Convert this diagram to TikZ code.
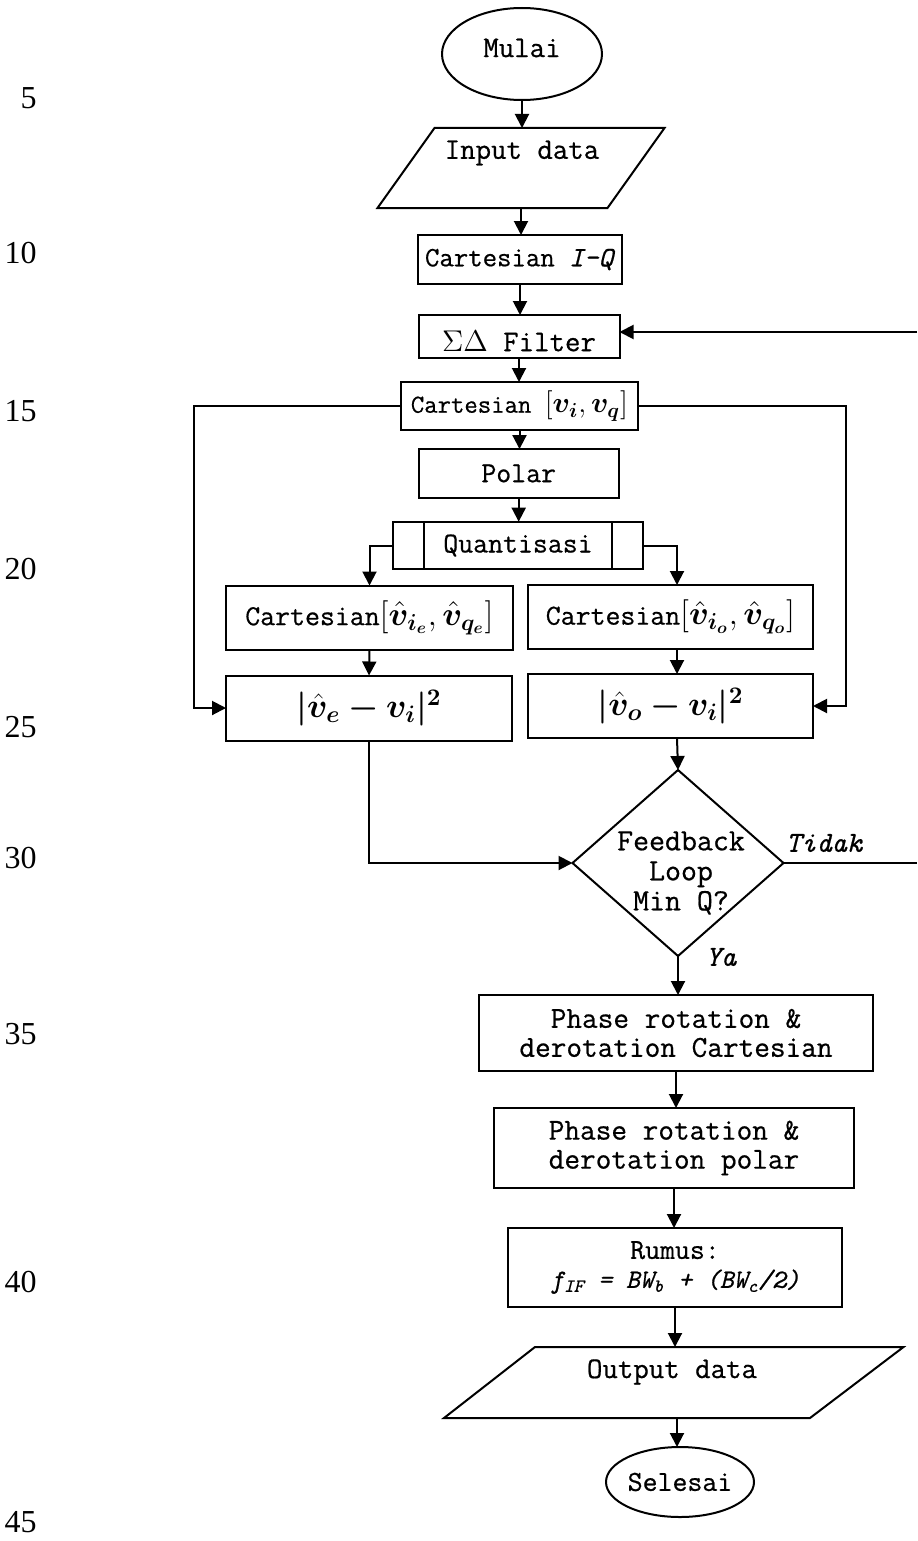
\RequirePackage{fix-cm}
\documentclass[tikz,border=0pt]{standalone}
\usepackage{fontspec}
\setmainfont{Liberation Serif}
\setmonofont{Latin Modern Mono}[FakeBold=0.6]
\usepackage{amsmath,bm}
\usetikzlibrary{shapes.geometric,arrows.meta,calc}
\begin{document}
\begin{tikzpicture}[x=0.5pt,y=-0.5pt,
  box/.style={draw, line width=1pt, rectangle, inner sep=0pt, outer sep=0pt,
    font=\ttfamily\fontsize{14.5}{14.5}\selectfont, align=center},
  bigtxt/.style={font=\ttfamily\fontsize{15.2}{14.5}\selectfont},
  arr/.style={line width=1pt, -{Triangle[length=7pt,width=7pt]}},
  ln/.style={line width=1pt},
  num/.style={font=\fontsize{16}{18}\selectfont, anchor=east, inner sep=0pt},
  txt/.style={font=\ttfamily\fontsize{15}{15}\selectfont, inner sep=0pt, align=center},
  itxt/.style={font=\ttfamily\itshape\fontsize{14.5}{15}\selectfont, inner sep=0pt},
  bigmath/.style={font=\fontsize{17}{20}\selectfont}]

\fill[white] (0,0) rectangle (917,1541);
\useasboundingbox (0,0) rectangle (917,1541);

% line numbers
\node[num] (n5) at (37,98) {5};
\node[num] (n10) at (37,253) {10};
\node[num] (n15) at (37,411) {15};
\node[num] (n20) at (37,569) {20};
\node[num] (n25) at (37,727) {25};
\node[num] (n30) at (37,858) {30};
\node[num] (n35) at (37,1034) {35};
\node[num] (n40) at (37,1282) {40};
\node[num] (n45) at (37,1522) {45};

% helper coordinates
\coordinate (lx) at (194,0);
\coordinate (rx) at (846,0);
\coordinate (rc) at (677,0);
\coordinate (edge1) at (917,863);
\coordinate (edge2) at (917,332);

% upper column
\node[box, ellipse, minimum width=80pt, minimum height=46pt] (mulai) at (522,54) {};
\node[txt] (mulaitxt) at (522,48) {Mulai};

\node[minimum width=115.5pt, minimum height=40pt, inner sep=0pt, outer sep=0pt] (input) at (521,168) {};
\draw[ln] (434.5,128) -- (664.5,128) -- (607.5,208) -- (377.5,208) -- cycle;
\node[txt] (inputtxt) at (522,153) {Input data};

\node[box, minimum width=101.75pt, minimum height=24.5pt, font=\ttfamily\fontsize{14}{14}\selectfont] (ciq) at (520,259.5) {Cartesian \textit{I-Q}};

\node[box, minimum width=100.5pt, minimum height=21.5pt] (filt) at (519,336.5) {};
\node[txt] (filttxt) at (519,341) {$\Sigma\Delta$ Filter};

\node[box, minimum width=118.5pt, minimum height=24pt, font=\ttfamily\fontsize{13}{14}\selectfont] (cv) at (519.5,406)
  {Cartesian {\fontsize{14.5}{16}\selectfont$[\bm{v_i},\bm{v_q}]$}};

\node[box, minimum width=100pt, minimum height=24.35pt] (polar) at (518.7,473.4) {Polar};

\node[box, minimum width=125pt, minimum height=23.8pt] (quant) at (518,545.5) {Quantisasi};
\draw[ln] ([xshift=15.5pt]quant.north west) -- ([xshift=15.5pt]quant.south west);
\draw[ln] ([xshift=-15.5pt]quant.north east) -- ([xshift=-15.5pt]quant.south east);

% branches
\node[box, minimum width=143.5pt, minimum height=32pt] (carte) at (369.5,617.5)
  {Cartesian{\fontsize{16.5}{18}\selectfont$[\hat{\bm v}_{\bm{i_e}},\hat{\bm v}_{\bm{q_e}}]$}};
\node[box, minimum width=142.5pt, minimum height=32pt] (carto) at (670.5,617)
  {Cartesian{\fontsize{16.5}{18}\selectfont$[\hat{\bm v}_{\bm{i_o}},\hat{\bm v}_{\bm{q_o}}]$}};

\node[box, bigmath, minimum width=143pt, minimum height=32.5pt] (abse) at (369,708) {$\bm{|\hat{v}_e - v_i|^2}$};
\node[box, bigmath, minimum width=142.5pt, minimum height=32pt] (abso) at (670.5,706) {$\bm{|\hat{v}_o - v_i|^2}$};

% decision
\node[draw, diamond, line width=1pt, shape aspect=1.13, minimum width=105.5pt, minimum height=93pt, inner sep=0pt, outer sep=0pt] (dec) at (678,863) {};
\node[txt, font=\ttfamily\fontsize{15.5}{15}\selectfont] (dectxt) at (681,873) {Feedback\\Loop\\Min Q?};
\node[itxt] (tidak) at (824,843) {Tidak};
\node[itxt] (ya) at (721,957) {Ya};

% lower column
\node[box, bigtxt, minimum width=197pt, minimum height=38pt] (ph1) at (676,1033) {Phase rotation \&\\derotation Cartesian};
\node[box, bigtxt, minimum width=180pt, minimum height=40pt] (ph2) at (674,1148) {Phase rotation \&\\derotation polar};
\node[box, minimum width=167pt, minimum height=39.5pt] (rumus) at (675,1267.5)
  {Rumus:\\{\fontsize{13.2}{14.5}\selectfont\textit{f\textsubscript{IF} = BW\textsubscript{b} + (BW\textsubscript{c}/2)}}};

\node[minimum width=140pt, minimum height=35.5pt, inner sep=0pt, outer sep=0pt] (output) at (677,1382.5) {};
\draw[ln] (535,1347) -- (903.5,1347) -- (810,1418) -- (444,1418) -- cycle;
\node[txt] (outputtxt) at (672,1372) {Output data};

\node[box, ellipse, minimum width=74pt, minimum height=35pt] (selesai) at (680,1482) {Selesai};

% connectors
\draw[arr] (mulai.south) -- (mulai.south |- input.north);
\draw[arr] (input.south) -- (input.south |- ciq.north);
\draw[arr] (ciq.south) -- (ciq.south |- filt.north);
\draw[arr] (filt.south) -- (filt.south |- cv.north);
\draw[arr] (cv.south) -- (cv.south |- polar.north);
\draw[arr] (polar.south) -- (polar.south |- quant.north);
\draw[arr] (quant.west) -| (carte.north);
\draw[arr] (quant.east) -| (rc |- carto.north);
\draw[arr] (carte.south) -- (abse.north);
\draw[arr] (rc |- carto.south) -- (rc |- abso.north);
\draw[arr] (cv.west) -- (cv.west -| lx) |- (abse.west);
\draw[arr] (cv.east) -- (cv.east -| rx) |- (abso.east);
\draw[arr] (rc |- abso.south) -- (dec.north);
\draw[arr] (abse.south) |- (dec.west);
\draw[ln] (dec.east) -- (edge1);
\draw[arr] (edge2) -- (edge2 -| filt.east);
\draw[arr] (dec.south) -- (dec.south |- ph1.north);
\draw[arr] (ph1.south) -- (ph1.south |- ph2.north);
\draw[arr] (ph2.south) -- (ph2.south |- rumus.north);
\draw[arr] (rumus.south) -- (rumus.south |- output.north);
\draw[arr] (output.south) -- (output.south |- selesai.north);
\end{tikzpicture}
\end{document}
